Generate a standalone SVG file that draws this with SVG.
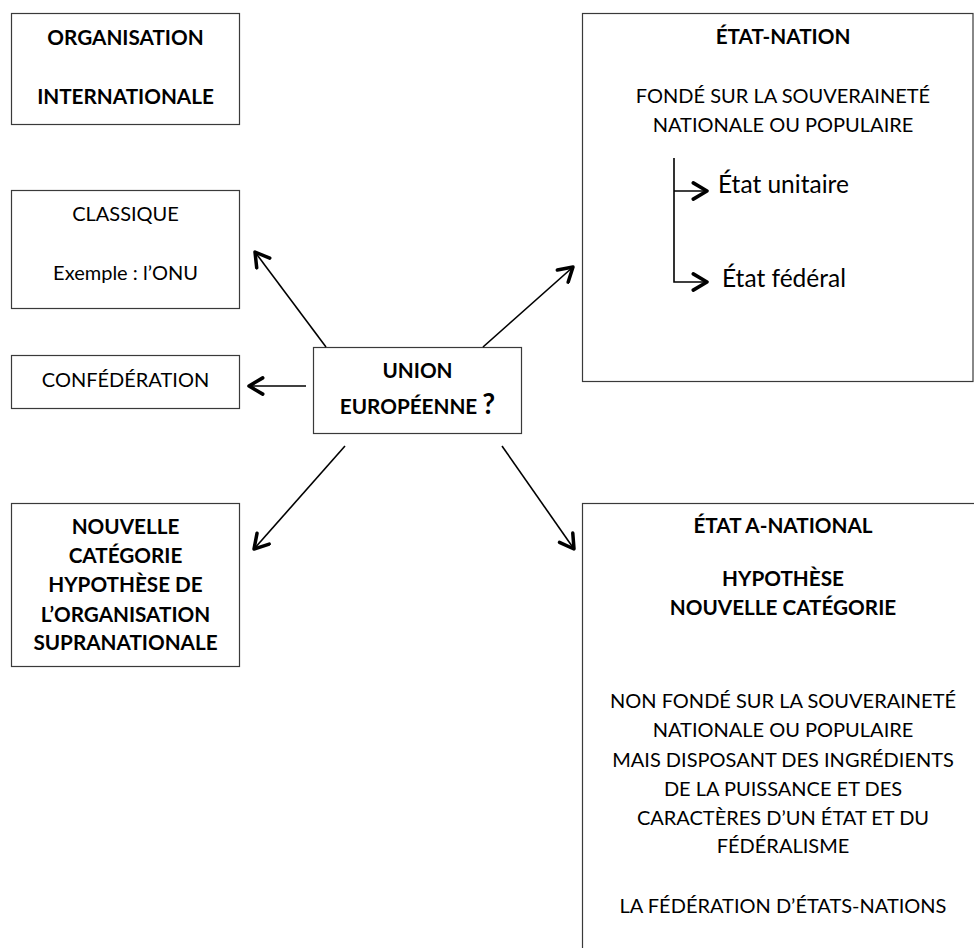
<svg xmlns="http://www.w3.org/2000/svg" width="974" height="948" viewBox="0 0 974 948">
<style>
text{font-family:Lato,"Carlito","Liberation Sans",sans-serif;fill:#000;text-anchor:middle}
.b{font-weight:bold;font-size:20.7px}
.n{font-size:20px}
.big{font-size:24.5px;text-anchor:start}
.box{fill:#fff;stroke:#3a3a3a;stroke-width:1.2}
.c{fill:none;stroke:#000;stroke-width:1.6}
</style>
<defs>
<marker id="ah" markerUnits="userSpaceOnUse" markerWidth="20" markerHeight="20" viewBox="-1 -8 14 16" refX="11" refY="0" orient="auto">
<path d="M0,-6.5 L11,0 L0,6.5" fill="none" stroke="#000" stroke-width="2.8" stroke-linecap="round" stroke-linejoin="round"/>
</marker>
</defs>
<rect width="974" height="948" fill="#fff"/>

<g id="org-internationale">
<rect class="box" x="11.5" y="13.5" width="228" height="111"/>
<text class="b" x="125.5" y="45">ORGANISATION</text>
<text class="b" x="125.5" y="104">INTERNATIONALE</text>
</g>

<g id="classique">
<rect class="box" x="11.5" y="190.5" width="228" height="118"/>
<text class="n" x="125.5" y="221">CLASSIQUE</text>
<text class="n" x="125.5" y="280">Exemple : l’ONU</text>
</g>

<g id="confederation">
<rect class="box" x="11.5" y="355.5" width="228" height="53"/>
<text class="n" x="125.5" y="387">CONFÉDÉRATION</text>
</g>

<g id="union-europeenne">
<rect class="box" x="313.5" y="347.5" width="208" height="86"/>
<text class="b" x="417.5" y="378">UNION</text>
<text class="b" x="417.5" y="414">EUROPÉENNE <tspan font-size="28px">?</tspan></text>
</g>

<g id="nouvelle-categorie">
<rect class="box" x="11.5" y="503.5" width="228" height="163"/>
<text class="b" x="125.5" y="534">NOUVELLE</text>
<text class="b" x="125.5" y="563">CATÉGORIE</text>
<text class="b" x="125.5" y="592">HYPOTHÈSE DE</text>
<text class="b" x="125.5" y="622">L’ORGANISATION</text>
<text class="b" x="125.5" y="650">SUPRANATIONALE</text>
</g>

<g id="etat-nation">
<rect class="box" x="582.5" y="13.5" width="390.5" height="368"/>
<text class="b" x="783" y="44">ÉTAT-NATION</text>
<text class="n" x="783" y="103">FONDÉ SUR LA SOUVERAINETÉ</text>
<text class="n" x="783" y="132">NATIONALE OU POPULAIRE</text>
<path class="c" d="M674,158 V282 H707" marker-end="url(#ah)"/>
<path class="c" d="M674,191 H707" marker-end="url(#ah)"/>
<text class="big" x="718" y="193">État unitaire</text>
<text class="big" x="722" y="287">État fédéral</text>
</g>

<g id="etat-a-national">
<rect class="box" x="582.5" y="503.5" width="420" height="470"/>
<text class="b" x="783" y="533">ÉTAT A-NATIONAL</text>
<text class="b" x="783" y="586">HYPOTHÈSE</text>
<text class="b" x="783" y="615">NOUVELLE CATÉGORIE</text>
<text class="n" x="783" y="708">NON FONDÉ SUR LA SOUVERAINETÉ</text>
<text class="n" x="783" y="737">NATIONALE OU POPULAIRE</text>
<text class="n" x="783" y="767">MAIS DISPOSANT DES INGRÉDIENTS</text>
<text class="n" x="783" y="796">DE LA PUISSANCE ET DES</text>
<text class="n" x="783" y="825">CARACTÈRES D’UN ÉTAT ET DU</text>
<text class="n" x="783" y="853">FÉDÉRALISME</text>
<text class="n" x="783" y="913">LA FÉDÉRATION D’ÉTATS-NATIONS</text>
</g>

<g id="connectors">
<line class="c" x1="326" y1="347" x2="255" y2="252" marker-end="url(#ah)"/>
<line class="c" x1="483" y1="347" x2="573" y2="267" marker-end="url(#ah)"/>
<line class="c" x1="306" y1="386" x2="249" y2="386" marker-end="url(#ah)"/>
<line class="c" x1="345" y1="446" x2="254" y2="549" marker-end="url(#ah)"/>
<line class="c" x1="502" y1="446" x2="574" y2="549" marker-end="url(#ah)"/>
</g>
</svg>
